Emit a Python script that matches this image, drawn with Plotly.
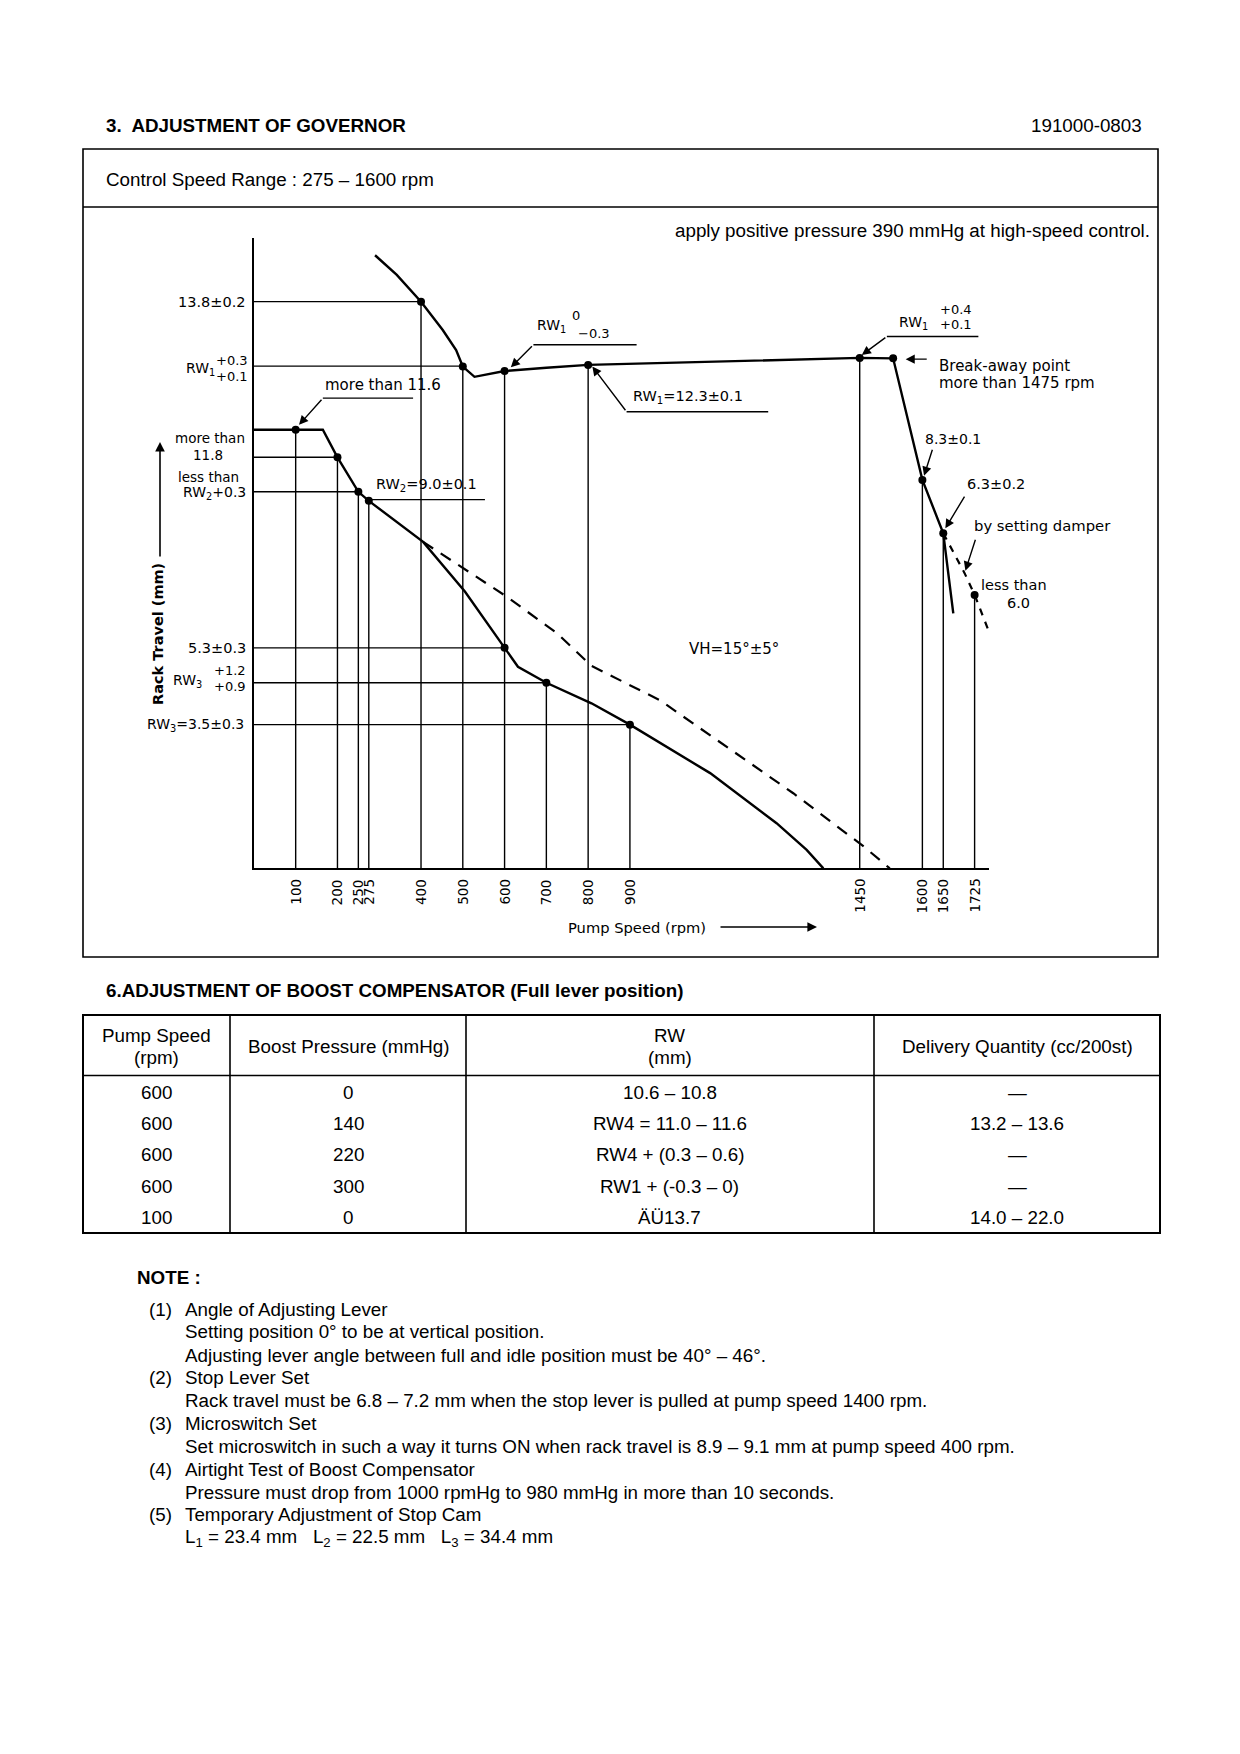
import plotly.graph_objects as go

W, H = 1240, 1754
OFF = 8  # browser default body margin
DOC_FONT = "Liberation Sans, Arial, sans-serif"
CH_FONT = "DejaVu Sans, Verdana, sans-serif"

# ---------------- data ----------------
tick_rpm = [100, 200, 250, 275, 400, 500, 600, 700, 800, 900, 1450, 1600, 1650, 1725]
tick_labels = ["100", "200", "250", "275", "400", "500", "600", "700", "800", "900",
               "1450", "1600", "1650", "1725"]
tick_ref_top = [10.68, 10.01, 9.17, 8.95, 13.8, 12.22, 12.11, 4.52, 12.26, 3.5,
                12.43, 9.46, 8.16, 6.66]

h_ref_mm = [13.8, 12.23, 10.01, 9.17, 5.37, 4.52, 3.5]
h_ref_to = [400, 500, 200, 250, 600, 700, 900]

full_rpm = [0, 165, 200, 250, 275, 405, 505, 600, 632, 700, 808, 900, 1092, 1251, 1323, 1363]
full_mm = [10.68, 10.68, 10.01, 9.17, 8.95, 7.95, 6.74, 5.37, 4.91, 4.52, 4.02, 3.5, 2.32, 1.10, 0.45, 0.0]

upper_rpm = [290, 342, 400, 452, 484, 500, 528, 600, 700, 800, 1450, 1530, 1600, 1650, 1674]
upper_mm = [14.93, 14.45, 13.8, 13.11, 12.62, 12.22, 11.97, 12.11, 12.19, 12.26, 12.43, 12.42, 9.46, 8.16, 6.21]

vh_rpm = [405, 606, 725, 808, 971, 1132, 1291, 1460, 1522]
vh_mm = [7.95, 6.61, 5.73, 4.93, 4.10, 2.96, 1.83, 0.53, 0.0]

damper_rpm = [1650, 1701, 1725, 1758]
damper_mm = [8.16, 7.19, 6.66, 5.8]

mark_rpm = [100, 200, 250, 275, 600, 700, 900, 400, 500, 600, 800, 1450, 1530, 1600, 1650, 1725]
mark_mm = [10.68, 10.01, 9.17, 8.95, 5.37, 4.52, 3.5, 13.8, 12.22, 12.11, 12.26, 12.43, 12.42, 9.46, 8.16, 6.66]

table_header = [["Pump Speed", "(rpm)"], ["Boost Pressure (mmHg)"], ["RW", "(mm)"],
                ["Delivery Quantity (cc/200st)"]]
col_speed = ["600", "600", "600", "600", "100"]
col_boost = ["0", "140", "220", "300", "0"]
col_rw = ["10.6 – 10.8", "RW4 = 11.0 – 11.6", "RW4 + (0.3 – 0.6)", "RW1 + (-0.3 – 0)", "ÄÜ13.7"]
col_delivery = ["—", "13.2 – 13.6", "—", "—", "14.0 – 22.0"]

notes = [
    ("(1)", "Angle of Adjusting Lever"),
    ("", "Setting position 0° to be at vertical position."),
    ("", "Adjusting lever angle between full and idle position must be 40° – 46°."),
    ("(2)", "Stop Lever Set"),
    ("", "Rack travel must be 6.8 – 7.2 mm when the stop lever is pulled at pump speed 1400 rpm."),
    ("(3)", "Microswitch Set"),
    ("", "Set microswitch in such a way it turns ON when rack travel is 8.9 – 9.1 mm at pump speed 400 rpm."),
    ("(4)", "Airtight Test of Boost Compensator"),
    ("", "Pressure must drop from 1000 rpmHg to 980 mmHg in more than 10 seconds."),
    ("(5)", "Temporary Adjustment of Stop Cam"),
    ("", "L<sub>1</sub> = 23.4 mm   L<sub>2</sub> = 22.5 mm   L<sub>3</sub> = 34.4 mm"),
]

# ---------------- helpers ----------------
def px_x(px):
    return (px - OFF) / W


def px_y(py):
    return 1 - (py - OFF) / H


annotations = []
shapes = []


def txt(s, px, py, size=14, anchor="center", bold=False, font=CH_FONT, angle=0, yanchor="middle"):
    if bold:
        s = "<b>" + s + "</b>"
    annotations.append(dict(text=s, x=px_x(px), y=px_y(py), xref="paper", yref="paper",
                            showarrow=False, xanchor=anchor, yanchor=yanchor, textangle=angle,
                            font=dict(family=font, size=size, color="black")))


def pline(x0, y0, x1, y1, w=1.5):
    shapes.append(dict(type="line", xref="paper", yref="paper", x0=px_x(x0), y0=px_y(y0),
                       x1=px_x(x1), y1=px_y(y1), line=dict(color="black", width=w)))


def leader(x0, x1, y, tip=None, w=1.4):
    shapes.append(dict(type="line", xref="x", yref="y", x0=x0, x1=x1, y0=y, y1=y,
                       line=dict(color="black", width=w)))
    if tip is not None:
        annotations.append(dict(text="", x=tip[0], y=tip[1], xref="x", yref="y",
                                ax=x0, ay=y, axref="x", ayref="y", showarrow=True,
                                arrowhead=2, arrowsize=1.3, arrowwidth=1.4, arrowcolor="black"))


def arrow_data(tail, tip):
    annotations.append(dict(text="", x=tip[0], y=tip[1], xref="x", yref="y",
                            ax=tail[0], ay=tail[1], axref="x", ayref="y", showarrow=True,
                            arrowhead=2, arrowsize=1.3, arrowwidth=1.4, arrowcolor="black"))


fig = go.Figure()

# reference (thin) lines
vx, vy = [], []
for r, top in zip(tick_rpm, tick_ref_top):
    vx += [r, r, None]
    vy += [0, top, None]
hx, hy = [], []
for m, r in zip(h_ref_mm, h_ref_to):
    hx += [0, r, None]
    hy += [m, m, None]
fig.add_trace(go.Scatter(x=vx, y=vy, mode="lines", line=dict(color="black", width=1.4),
                         hoverinfo="skip", showlegend=False))
fig.add_trace(go.Scatter(x=hx, y=hy, mode="lines", line=dict(color="black", width=1.4),
                         hoverinfo="skip", showlegend=False))

# curves
fig.add_trace(go.Scatter(x=full_rpm, y=full_mm, mode="lines", line=dict(color="black", width=2.4),
                         showlegend=False))
fig.add_trace(go.Scatter(x=upper_rpm, y=upper_mm, mode="lines", line=dict(color="black", width=2.4),
                         showlegend=False))
fig.add_trace(go.Scatter(x=vh_rpm, y=vh_mm, mode="lines",
                         line=dict(color="black", width=2.2, dash="12px,9px"), showlegend=False))
fig.add_trace(go.Scatter(x=damper_rpm, y=damper_mm, mode="lines",
                         line=dict(color="black", width=2.2, dash="7px,7px"), showlegend=False))
fig.add_trace(go.Scatter(x=mark_rpm, y=mark_mm, mode="markers",
                         marker=dict(color="black", size=8), showlegend=False))

# tick labels (rotated)
for r, lab in zip(tick_rpm, tick_labels):
    annotations.append(dict(text=lab, x=r, y=px_y(877), xref="x", yref="paper", showarrow=False,
                            textangle=-90, xanchor="center", yanchor="top",
                            font=dict(family=CH_FONT, size=13.5, color="black")))

# leaders on chart
leader(165, 381, 11.45, tip=(108, 10.80))
leader(275, 553, 8.98)
leader(669, 916, 12.75, tip=(615, 12.20))
leader(892, 1231, 11.12, tip=(810, 12.22))
leader(1515, 1734, 12.95, tip=(1455, 12.50))
arrow_data((1614, 12.40), (1560, 12.40))
arrow_data((1625, 10.23), (1604, 9.56))
arrow_data((1703, 9.09), (1655, 8.28))
arrow_data((1728, 8.04), (1703, 7.25))

# chart labels
txt("more than 11.6", 382.5, 385, size=15)
txt("RW<sub>2</sub>=9.0±0.1", 426.7, 485, size=14.5)
txt("RW<sub>1</sub>", 551, 326)
txt("0", 576, 316, size=13)
txt("−0.3", 594, 334, size=13)
txt("RW<sub>1</sub>=12.3±0.1", 688, 397, size=14.5)
txt("RW<sub>1</sub>", 913, 323)
txt("+0.4", 955.5, 309, size=13)
txt("+0.1", 955.5, 325, size=13)
txt("Break-away point", 936.7, 366, anchor="left", size=15)
txt("more than 1475 rpm", 936.7, 383.3, anchor="left", size=15)
txt("8.3±0.1", 923, 439.3, anchor="left", size=14)
txt("6.3±0.2", 965, 484, anchor="left", size=14.5)
txt("by setting damper", 971.7, 525, anchor="left", size=14.8)
txt("less than", 1014, 585, size=14.5)
txt("6.0", 1018, 603, size=14.5)
txt("VH=15°±5°", 734, 649.3, size=15)

txt("13.8±0.2", 248, 301.7, anchor="right", size=14.5)
txt("RW<sub>1</sub>", 217, 369, anchor="right")
txt("+0.3", 250, 360, anchor="right", size=13)
txt("+0.1", 250, 376, anchor="right", size=13)
txt("more than", 247, 438.3, anchor="right", size=13.5)
txt("11.8", 208, 455, size=13.5)
txt("less than", 208, 476.7, size=13.5)
txt("RW<sub>2</sub>+0.3", 214, 493)
txt("5.3±0.3", 248, 647.7, anchor="right", size=14.5)
txt("RW<sub>3</sub>", 187, 681)
txt("+1.2", 248, 670.7, anchor="right", size=13)
txt("+0.9", 248, 686.7, anchor="right", size=13)
txt("RW<sub>3</sub>=3.5±0.3", 246, 724.7, anchor="right")
txt("Rack Travel (mm)", 158, 634, size=14.5, angle=-90, bold=True)
txt("Pump Speed (rpm)", 637, 927, size=14.7)

# axis-title arrows
annotations.append(dict(text="", x=px_x(160), y=px_y(442), xref="paper", yref="paper",
                        ax=0, ay=116, showarrow=True, arrowhead=2, arrowsize=1.2,
                        arrowwidth=1.6, arrowcolor="black"))
annotations.append(dict(text="", x=px_x(817), y=px_y(927), xref="paper", yref="paper",
                        ax=-98, ay=0, showarrow=True, arrowhead=2, arrowsize=1.2,
                        arrowwidth=1.6, arrowcolor="black"))

# ---------------- document text ----------------
DS = 18.8
txt("3.  ADJUSTMENT OF GOVERNOR", 104, 125, size=DS, anchor="left", bold=True, font=DOC_FONT)
txt("191000-0803", 1144, 125, size=DS, anchor="right", font=DOC_FONT)
txt("Control Speed Range : 275 – 1600 rpm", 104, 179, size=DS, anchor="left", font=DOC_FONT)
txt("apply positive pressure 390 mmHg at high-speed control.", 1152, 231, size=DS,
    anchor="right", font=DOC_FONT)

# governor box
shapes.append(dict(type="rect", xref="paper", yref="paper", x0=px_x(83), y0=px_y(957),
                   x1=px_x(1158), y1=px_y(149), line=dict(color="black", width=1.6)))
pline(83, 207, 1158, 207, w=1.6)

# boost compensator table
txt("6.ADJUSTMENT OF BOOST COMPENSATOR (Full lever position)", 104, 990.5, size=DS,
    anchor="left", bold=True, font=DOC_FONT)
t_left, t_right, t_top, t_head, t_bot = 83, 1160, 1015, 1075.5, 1233
col_edges = [t_left, 230, 466, 874, t_right]
shapes.append(dict(type="rect", xref="paper", yref="paper", x0=px_x(t_left), y0=px_y(t_bot),
                   x1=px_x(t_right), y1=px_y(t_top), line=dict(color="black", width=2)))
pline(t_left, t_head, t_right, t_head, w=1.6)
for cx in col_edges[1:-1]:
    pline(cx, t_top, cx, t_bot, w=1.6)
col_centers = [(a + b) / 2 for a, b in zip(col_edges[:-1], col_edges[1:])]
for c, lines in zip(col_centers, table_header):
    if len(lines) == 2:
        txt(lines[0], c, 1035, size=DS, font=DOC_FONT)
        txt(lines[1], c, 1057.5, size=DS, font=DOC_FONT)
    else:
        txt(lines[0], c, 1046, size=DS, font=DOC_FONT)
row_y = [1092.3, 1123.6, 1154.9, 1186.2, 1217.5]
for col, c in zip([col_speed, col_boost, col_rw, col_delivery], col_centers):
    for v, yy in zip(col, row_y):
        txt(v, c, yy, size=DS, font=DOC_FONT)

# notes
txt("NOTE :", 135, 1277, size=DS, anchor="left", bold=True, font=DOC_FONT)
note_y = [1309.2, 1331.5, 1355.0, 1377.4, 1400.9, 1423.2, 1446.7, 1469.1, 1492.5, 1514.9, 1538.4]
for (num, line), yy in zip(notes, note_y):
    if num:
        txt(num, 146.5, yy, size=DS, anchor="left", font=DOC_FONT)
    txt(line, 183, yy, size=DS, anchor="left", font=DOC_FONT)

fig.update_layout(
    width=W, height=H,
    margin=dict(l=0, r=0, t=0, b=0),
    paper_bgcolor="white", plot_bgcolor="white",
    showlegend=False,
    xaxis=dict(range=[0, 1760],
               domain=[(253.9 - OFF) / W, (253.9 - OFF + 1760 * 0.4178) / W],
               showline=True, linecolor="black", linewidth=2, showgrid=False, zeroline=False,
               showticklabels=False, ticks="", fixedrange=True),
    yaxis=dict(range=[0, 15.35], domain=[px_y(868.4), px_y(238)],
               showline=True, linecolor="black", linewidth=2, showgrid=False, zeroline=False,
               showticklabels=False, ticks="", fixedrange=True),
    annotations=annotations,
    shapes=shapes,
)

fig.write_html("out.html")
